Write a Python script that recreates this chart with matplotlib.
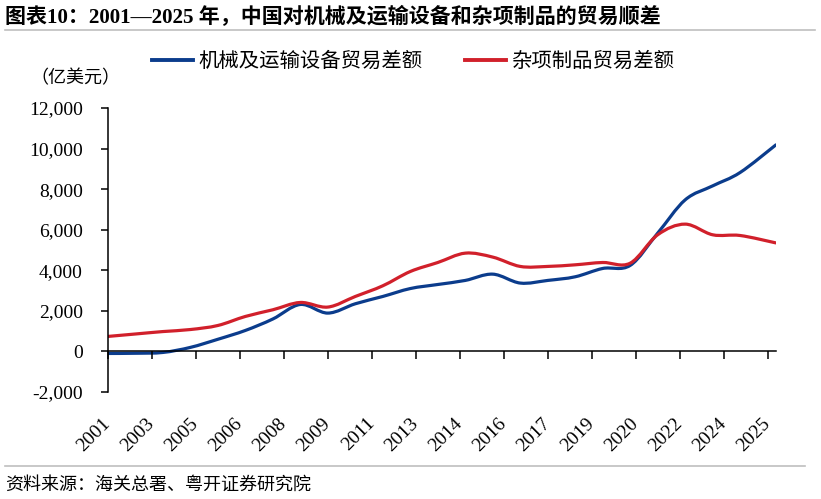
import numpy as np
import matplotlib.pyplot as plt
from matplotlib.path import Path
from matplotlib.patches import PathPatch
from matplotlib.lines import Line2D

plt.rcParams['font.family'] = ['Liberation Serif', 'Noto Sans CJK SC']

years = [2001, 2002, 2003, 2004, 2005, 2006, 2007, 2008, 2009, 2010, 2011, 2012, 2013,
         2014, 2015, 2016, 2017, 2018, 2019, 2020, 2021, 2022, 2023, 2024, 2025.3]
machinery = [-100, -90, -50, 200, 600, 1035, 1600, 2315, 1890, 2350, 2710, 3100, 3300,
             3500, 3810, 3370, 3500, 3680, 4090, 4240, 5830, 7470, 8160, 8820, 10180]
misc = [740, 860, 980, 1080, 1280, 1725, 2054, 2414, 2187, 2710, 3236, 3940, 4384,
        4845, 4650, 4190, 4190, 4270, 4384, 4350, 5750, 6275, 5750, 5715, 5350]
tick_labels = ['2001', '2003', '2005', '2006', '2008', '2009', '2011', '2013',
               '2014', '2016', '2017', '2019', '2020', '2022', '2024', '2025']
series_names = ['机械及运输设备贸易差额', '杂项制品贸易差额']
colors = ['#0B3C8C', '#D1202B']


def smooth_path(x, y):
    # excel-like smoothed line: cubic bezier through the points
    x = np.asarray(x, float)
    y = np.asarray(y, float)
    pts = np.column_stack([x, y])
    n = len(pts)
    verts = [pts[0]]
    codes = [Path.MOVETO]
    for i in range(n - 1):
        p0 = pts[i - 1] if i > 0 else pts[i]
        p1 = pts[i]
        p2 = pts[i + 1]
        p3 = pts[i + 2] if i + 2 < n else pts[i + 1]
        c1 = p1 + (p2 - p0) / 6
        c2 = p2 - (p3 - p1) / 6
        verts += [c1, c2, p2]
        codes += [Path.CURVE4] * 3
    return Path(verts, codes)


fig = plt.figure(figsize=(8.21, 4.99), dpi=100)
ax = fig.add_axes([0.1315, 0.2144, 0.8135, 0.5692])

ax.spines['top'].set_visible(False)
ax.spines['right'].set_visible(False)
ax.spines['bottom'].set_position(('data', 0))
for s in ['left', 'bottom']:
    ax.spines[s].set_linewidth(1.1)

for vals, c in zip([machinery, misc], colors):
    ax.add_patch(PathPatch(smooth_path(years, vals), fill=False, edgecolor=c,
                           lw=2.3, capstyle='round', joinstyle='round'))

ax.set_xlim(2001, 2025.3)
ax.set_ylim(-2000, 12000)
ax.set_yticks(range(-2000, 12001, 2000))
ax.set_yticklabels([f'{v:,}' for v in range(-2000, 12001, 2000)], fontsize=14)
ax.set_xticks([2001 + 1.6 * i for i in range(len(tick_labels))])
ax.set_xticklabels(tick_labels, fontsize=14, rotation=45, ha='right', va='center',
                   rotation_mode='anchor')
ax.tick_params(axis='y', direction='out', length=5, width=1.1, pad=13)
ax.tick_params(axis='x', direction='out', length=6, width=1.1, pad=44)

handles = [Line2D([], [], color=c, lw=2.8) for c in colors]
fig.legend(handles, series_names, loc='center', bbox_to_anchor=(0.503, 0.876), ncol=2,
           frameon=False, handlelength=2.0, handletextpad=0.25,
           columnspacing=2.1, prop={'family': ['Noto Sans CJK SC'], 'size': 14.7})

fig.text(30 / 821, 1 - 78 / 499, '（亿美元）', fontsize=13, va='center', ha='left',
         family=['Noto Sans CJK SC'])
fig.text(5 / 821, 1 - 17 / 499, '图表10：2001—2025 年，中国对机械及运输设备和杂项制品的贸易顺差',
         fontsize=15.1, fontweight='bold', va='center', ha='left')
fig.text(5 / 821, 1 - 485 / 499, '资料来源：海关总署、粤开证券研究院', fontsize=13,
         va='center', ha='left', style='italic', family=['Noto Sans CJK SC'])

fig.add_artist(Line2D([5 / 821, 815 / 821], [1 - 30 / 499, 1 - 30 / 499],
                      color='#BFBFBF', lw=1.2, transform=fig.transFigure))
fig.add_artist(Line2D([5 / 821, 805 / 821], [1 - 466 / 499, 1 - 466 / 499],
                      color='#BFBFBF', lw=1.2, transform=fig.transFigure))

fig.savefig('out.png', dpi=100)
